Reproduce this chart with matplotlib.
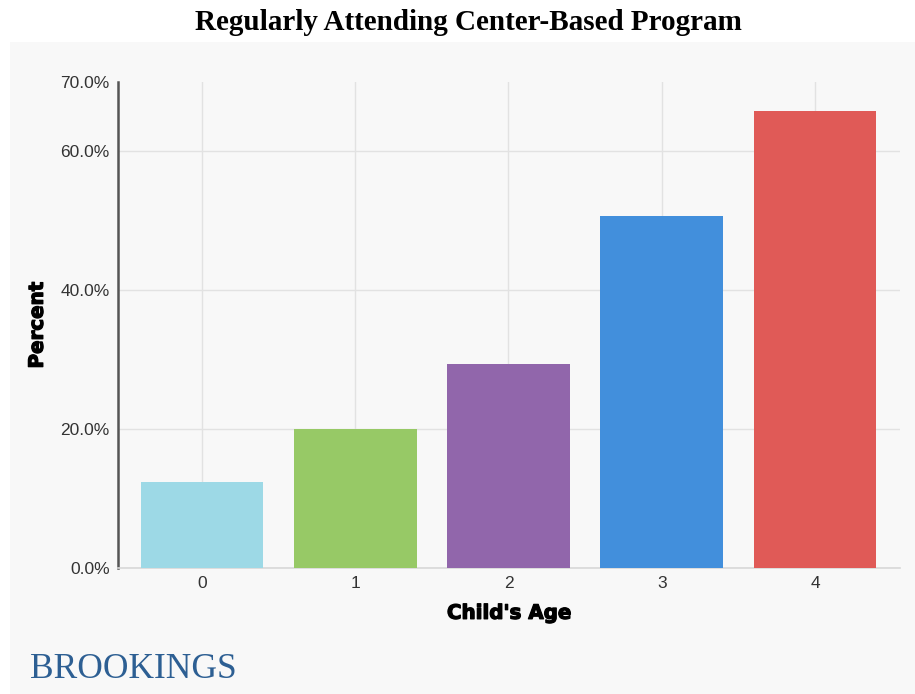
import matplotlib
matplotlib.use('Agg')
import matplotlib.pyplot as plt
import matplotlib.patheffects as pe
import numpy as np

ages = ['0', '1', '2', '3', '4']
pct = [12.4, 20.0, 29.4, 50.7, 65.8]
colors = ['#9dd9e6', '#97c966', '#9166ab', '#428fdc', '#e05a57']
yticks = [0, 20, 40, 60, 70]

BG = '#f8f8f8'

fig = plt.figure(figsize=(9.15, 6.94), dpi=100)
fig.patch.set_facecolor('white')
# light grey panel behind the chart
fig.patches.append(plt.Rectangle((10 / 915, 0), 1, 1 - 42 / 694, transform=fig.transFigure,
                                 facecolor=BG, edgecolor='none', zorder=-5))

ax = fig.add_axes([118 / 915, 1 - 568 / 694, (900 - 118) / 915, (568 - 82) / 694])
ax.set_facecolor(BG)
xs = np.arange(len(ages))
ax.bar(xs, pct, width=0.8, color=colors, zorder=3)

ax.set_xlim(-0.548, 4.555)
ax.set_ylim(0, 70)
ax.set_yticks(yticks)
ax.set_yticklabels([f'{v:.1f}%' for v in yticks])
ax.set_xticks(xs)
ax.set_xticklabels(ages)
ax.tick_params(axis='both', length=0, labelsize=12.5, colors='#333333', pad=6,
               labelfontfamily='Liberation Sans')
ax.grid(True, color='#e2e2e2', lw=1, zorder=0)
ax.yaxis.get_gridlines()[-1].set_visible(False)

for s in ('top', 'right'):
    ax.spines[s].set_visible(False)
ax.spines['left'].set_color('#555555')
ax.spines['left'].set_linewidth(1.8)
ax.spines['bottom'].set_color('#d8d8d8')
ax.spines['bottom'].set_linewidth(1.2)

heavy = [pe.withStroke(linewidth=0.9, foreground='black')]
ax.set_ylabel('Percent', fontsize=14.3, fontweight='bold', family='DejaVu Sans', path_effects=heavy)
ax.yaxis.set_label_coords(-0.091, 0.5)
ax.set_xlabel("Child's Age", fontsize=14.3, fontweight='bold', family='DejaVu Sans', labelpad=9,
              path_effects=heavy)

fig.text(468.5 / 915, 1 - 22 / 694, 'Regularly Attending Center-Based Program', ha='center',
         va='center', fontsize=21, fontweight='bold', family='Liberation Serif')
fig.text(30 / 915, 1 - 669 / 694, 'BROOKINGS', ha='left', va='center', fontsize=25.5,
         family='Liberation Serif', color='#2d5f93')

fig.savefig('out.png', dpi=100)
